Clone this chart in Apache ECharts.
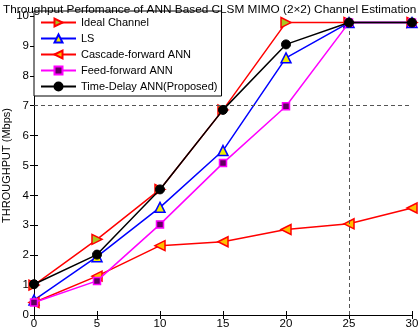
<!DOCTYPE html>
<html>
<head>
<meta charset="utf-8">
<script src="https://cdn.jsdelivr.net/npm/echarts@6/dist/echarts.min.js"></script>
<style>
  html, body { margin: 0; padding: 0; background: #fff; }
  #chart { width: 420px; height: 329px; }
</style>
</head>
<body>
<div id="chart"></div>
<script>
// SNR points on the x axis
var snr = [0, 5, 10, 15, 20, 25, 30];
var xTicks = [0, 5, 10, 15, 20, 25, 30];
var yTicks = [0, 1, 2, 3, 4, 5, 6, 7, 8, 9, 10];

// throughput values (Mbps)
var idealChannel = [1.0, 2.53, 4.2, 6.86, 9.78, 9.78, 9.78];
var ls = [0.5, 1.95, 3.6, 5.5, 8.6, 9.78, 9.78];
var cascadeAnn = [0.42, 1.3, 2.32, 2.45, 2.86, 3.05, 3.58];
var feedAnn = [0.42, 1.14, 3.03, 5.08, 6.98, 9.78, 9.78];
var timeDelayAnn = [1.03, 2.02, 4.2, 6.86, 9.05, 9.78, 9.78];

var names = ['Ideal Channel', 'LS', 'Cascade-forward ANN', 'Feed-forward ANN', 'Time-Delay ANN(Proposed)'];

function pairs(arr) {
    return snr.map(function (x, i) { return [x, arr[i]]; });
}

var chart = echarts.init(document.getElementById('chart'));

var axisText = { color: '#000', fontSize: 11.5, fontFamily: 'Liberation Sans' };

var option = {
    animation: false,
    title: {
        text: 'Throughput Perfomance of ANN Based CLSM MIMO (2\u00d72) Channel Estimation',
        left: -2,
        top: -1,
        textStyle: { fontSize: 11.8, fontWeight: 'normal', color: '#000', fontFamily: 'Liberation Sans' }
    },
    grid: { left: 34, right: 8, top: 16, bottom: 14, containLabel: false, outerBoundsMode: 'none' },
    legend: {
        data: names,
        orient: 'vertical',
        left: 34,
        top: 11,
        itemWidth: 35,
        itemHeight: 10,
        itemGap: 5,
        padding: [6, 4, 4, 6],
        backgroundColor: '#fff',
        borderColor: '#000',
        borderWidth: 1,
        borderRadius: 0,
        textStyle: { fontSize: 11, color: '#000', fontFamily: 'Liberation Sans' }
    },
    xAxis: [{
        type: 'value',
        min: 0, max: 30, interval: 5,
        axisLine: { onZero: false, lineStyle: { color: '#000' } },
        axisTick: { inside: true, length: 4, lineStyle: { color: '#000' } },
        axisLabel: Object.assign({ margin: 3 }, axisText),
        splitLine: { show: false }
    }, {
        type: 'value', position: 'top',
        min: 0, max: 30, interval: 5,
        axisLine: { lineStyle: { color: '#000' } },
        axisTick: { inside: true, length: 4, lineStyle: { color: '#000' } },
        axisLabel: { show: false },
        splitLine: { show: false }
    }],
    yAxis: [{
        type: 'value',
        min: 0, max: 10, interval: 1,
        name: 'THROUGHPUT (Mbps)',
        nameLocation: 'middle',
        nameGap: 22,
        nameMoveOverlap: false,
        nameTextStyle: { fontSize: 11, color: '#000', fontFamily: 'Liberation Sans' },
        axisLine: { show: true, lineStyle: { color: '#000' } },
        axisTick: { inside: true, length: 4, lineStyle: { color: '#000' } },
        axisLabel: Object.assign({ margin: 5 }, axisText),
        splitLine: { show: false }
    }, {
        type: 'value', position: 'right',
        min: 0, max: 10, interval: 1,
        axisLine: { show: true, lineStyle: { color: '#000' } },
        axisTick: { inside: true, length: 4, lineStyle: { color: '#000' } },
        axisLabel: { show: false },
        splitLine: { show: false }
    }],
    series: [
        {
            name: names[0], type: 'line', data: pairs(idealChannel),
            symbol: 'triangle', symbolSize: 10, symbolRotate: -90,
            lineStyle: { color: '#ff0000', width: 1.5 },
            itemStyle: { color: '#a8c820', borderColor: '#ff0000', borderWidth: 1.5 },
            markLine: {
                silent: true, symbol: 'none', label: { show: false },
                lineStyle: { color: '#555', type: [4, 3], width: 1 },
                data: [{ yAxis: 7 }, { xAxis: 25 }]
            },
            z: 2
        },
        {
            name: names[1], type: 'line', data: pairs(ls),
            symbol: 'triangle', symbolSize: 10,
            lineStyle: { color: '#0000ff', width: 1.5 },
            itemStyle: { color: '#f0f000', borderColor: '#0000ff', borderWidth: 1.5 },
            z: 3
        },
        {
            name: names[2], type: 'line', data: pairs(cascadeAnn),
            symbol: 'triangle', symbolSize: 10, symbolRotate: 90,
            lineStyle: { color: '#ff0000', width: 1.5 },
            itemStyle: { color: '#ffc000', borderColor: '#ff0000', borderWidth: 1.5 },
            z: 4
        },
        {
            name: names[3], type: 'line', data: pairs(feedAnn),
            symbol: 'rect', symbolSize: 7,
            lineStyle: { color: '#ff00ff', width: 1.5 },
            itemStyle: { color: '#600060', borderColor: '#ff00ff', borderWidth: 1.5 },
            z: 5
        },
        {
            name: names[4], type: 'line', data: pairs(timeDelayAnn),
            symbol: 'circle', symbolSize: 9,
            lineStyle: { color: '#000', width: 1.5 },
            itemStyle: { color: '#000', borderColor: '#000', borderWidth: 1 },
            z: 6
        }
    ]
};

chart.setOption(option);
</script>
</body>
</html>
